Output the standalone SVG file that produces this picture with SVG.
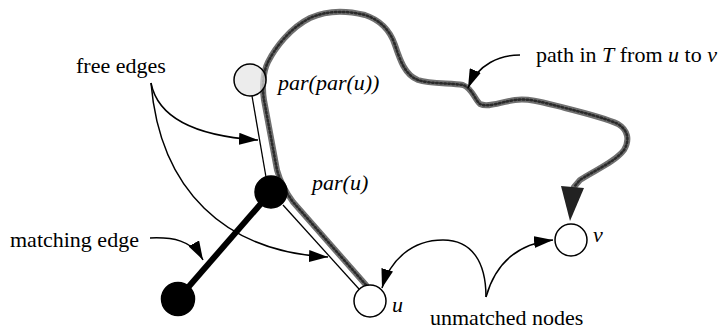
<svg xmlns="http://www.w3.org/2000/svg" width="721" height="330" viewBox="0 0 721 330">
<defs>
<style>
.lbl{font-family:'Liberation Serif','DejaVu Serif',serif;font-size:22px;fill:#000}
.it{font-style:italic}
.ann{fill:none;stroke:#000;stroke-width:1.5}
.thin{fill:none;stroke:#000;stroke-width:1.3}
.gray{fill:none;stroke:#707070;stroke-width:6;stroke-linecap:round;stroke-linejoin:round}
.grayd{fill:none;stroke:#2a2a2a;stroke-width:2.5;stroke-dasharray:1.5 2.5;stroke-linecap:round}
.node{stroke:#000;stroke-width:1.5}
</style>
<marker id="ah" markerUnits="userSpaceOnUse" markerWidth="20" markerHeight="12" refX="19" refY="6" orient="auto">
<path d="M0,0 L19,6 L0,12 z" fill="#000"/>
</marker>
</defs>
<rect width="721" height="330" fill="#fff"/>
<g id="connectors">
<line id="e-ppu-pu" class="thin" x1="252" y1="96" x2="266" y2="177"/>
<line id="e-pu-u" class="thin" x1="283" y1="205" x2="359" y2="289"/>
<line id="e-match" x1="178" y1="299" x2="271" y2="192" stroke="#000" stroke-width="6"/>
<path id="tree-path" class="gray" d="M366,285 L293,202 C285,191 280,181 277,170 L264,100 C262,88 263,72 268,62 C275,48 290,28 310,18 C325,11 345,10 365,15 C380,20 390,30 395,45 C400,60 405,75 418,80 C430,84 450,83 463,85 C472,88 475,100 480,104 C488,108 500,102 515,100 C530,98 545,103 565,108 C585,113 605,118 618,124 C628,130 630,140 624,150 C615,162 595,170 580,180 L574,187"/>
<path class="grayd" d="M366,285 L293,202 C285,191 280,181 277,170 L264,100 C262,88 263,72 268,62 C275,48 290,28 310,18 C325,11 345,10 365,15 C380,20 390,30 395,45 C400,60 405,75 418,80 C430,84 450,83 463,85 C472,88 475,100 480,104 C488,108 500,102 515,100 C530,98 545,103 565,108 C585,113 605,118 618,124 C628,130 630,140 624,150 C615,162 595,170 580,180 L574,187"/>
<polygon points="561,186 584,188 570,221" fill="#222"/>
<path id="a-free1" class="ann" marker-end="url(#ah)" d="M151,83 C158,118 195,136 258,140"/>
<path id="a-free2" class="ann" marker-end="url(#ah)" d="M151,83 C160,190 225,252 328,257"/>
<path id="a-match" class="ann" marker-end="url(#ah)" d="M150,238 C172,237 192,240 203,260"/>
<path id="a-path" class="ann" marker-end="url(#ah)" d="M520,55 C500,55 478,64 468,88"/>
<path id="a-um1" class="ann" marker-end="url(#ah)" d="M486,297 C486,262 472,240 443,240 C412,240 390,260 382,288"/>
<path id="a-um2" class="ann" marker-end="url(#ah)" d="M486,297 C495,265 515,244 553,240"/>
</g>
<g id="n-ppu">
<circle class="node" cx="250" cy="80" r="16" fill="#e4e4e4" fill-opacity="0.7"/>
<text class="lbl it" font-family="Liberation Serif" x="278" y="90">par(par(u))</text>
</g>
<g id="n-pu">
<circle class="node" cx="271" cy="192" r="16" fill="#000"/>
<text class="lbl it" font-family="Liberation Serif" x="312" y="190">par(u)</text>
</g>
<g id="n-m">
<circle class="node" cx="178" cy="299" r="16.5" fill="#000"/>
</g>
<g id="n-u">
<circle class="node" cx="370" cy="301" r="16" fill="#fff"/>
<text class="lbl it" font-family="Liberation Serif" x="392" y="312">u</text>
</g>
<g id="n-v">
<circle class="node" cx="571" cy="240" r="16" fill="#fff"/>
<text class="lbl it" font-family="Liberation Serif" x="593" y="242">v</text>
</g>
<g id="labels">
<text class="lbl" font-family="Liberation Serif" x="76" y="73">free edges</text>
<text class="lbl" font-family="Liberation Serif" x="10" y="247">matching edge</text>
<text class="lbl" font-family="Liberation Serif" x="430" y="325">unmatched nodes</text>
<text class="lbl" font-family="Liberation Serif" x="536" y="62">path in <tspan class="it">T</tspan> from <tspan class="it">u</tspan> to <tspan class="it">v</tspan></text>
</g>
</svg>
